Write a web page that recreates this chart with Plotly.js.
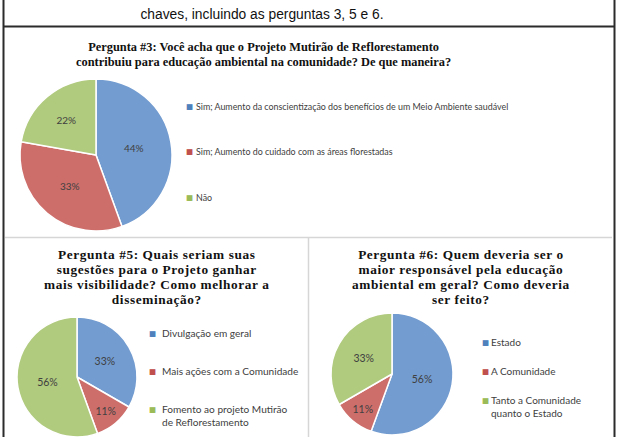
<!DOCTYPE html>
<html><head><meta charset="utf-8">
<script src="https://cdn.plot.ly/plotly-3.0.1.min.js"></script>
<style>html,body{margin:0;padding:0;background:#fff;overflow:hidden}</style>
</head><body><div id="chart" style="width:617px;height:437px"></div>
<script>
// ---- data ----
const caption = "chaves, incluindo as perguntas 3, 5 e 6.";
const q3Title = ["Pergunta #3: Você acha que o Projeto Mutirão de Reflorestamento",
                 "contribuiu para educação ambiental na comunidade? De que maneira?"];
const q3Labels = ["Sim; Aumento da conscientização dos benefícios de um Meio Ambiente saudável",
                  "Sim; Aumento do cuidado com as áreas florestadas",
                  "Não"];
const q3Values = [4, 3, 2];

const q5Title = ["Pergunta #5: Quais seriam suas", "sugestões para o Projeto ganhar",
                 "mais visibilidade? Como melhorar a", "disseminação?"];
const q5Labels = ["Divulgação em geral", "Mais ações com a Comunidade",
                  "Fomento ao projeto Mutirão de Reflorestamento"];
const q5Values = [3, 1, 5];

const q6Title = ["Pergunta #6: Quem deveria ser o", "maior responsável pela educação",
                 "ambiental em geral? Como deveria", "ser feito?"];
const q6Labels = ["Estado", "A Comunidade", "Tanto a Comunidade quanto o Estado"];
const q6Values = [5, 1, 3];

const sliceColors = ["#739CD0", "#CD6E6B", "#B0CA7E"];
const legendColors = ["#4F81BD", "#C0504D", "#9BBB59"];

// ---- layout helpers (pixel -> paper) ----
const W = 617, H = 437;
const X = px => px / W;
const Y = py => 1 - py / H;
const dom = (cx, cy, r) => ({x: [X(cx - r), X(cx + r)], y: [Y(cy + r), Y(cy - r)]});

function wrap(label, maxChars) {
  const words = label.split(' '); const lines = []; let cur = '';
  words.forEach(w => {
    if (cur && (cur + ' ' + w).length > maxChars) { lines.push(cur); cur = w; }
    else cur = cur ? cur + ' ' + w : w;
  });
  if (cur) lines.push(cur);
  return lines;
}

function pieTrace(labels, values, domain, fs) {
  return {
    type: 'pie', labels: labels, values: values, sort: false,
    direction: 'clockwise', rotation: 0,
    marker: {colors: sliceColors, line: {color: '#ffffff', width: 1.5}},
    texttemplate: '%{percent:.0%}', textposition: 'inside',
    insidetextorientation: 'horizontal',
    textfont: {family: 'Lato, Arial, sans-serif', size: fs, color: '#404040'},
    hoverinfo: 'label+percent', showlegend: false, domain: domain
  };
}

const annotations = [];
function titleAnn(lines, cx, cy, fs, lineGap, spacing) {
  const st = 'font-size:' + fs + 'px' + (spacing ? ';letter-spacing:' + spacing + 'px' : '');
  annotations.push({
    xref: 'paper', yref: 'paper', x: X(cx), y: Y(cy), xanchor: 'center', yanchor: 'middle',
    showarrow: false, align: 'center',
    text: lines.map(l => '<span style="' + st + '">' + l + '</span>').join('<br>'),
    font: {family: 'Liberation Serif, Times New Roman, serif', size: lineGap / 1.3, color: '#111111', weight: 'bold'}
  });
}
function legendAnn(labels, sqX, txX, ys, fs, maxChars) {
  labels.forEach((lab, i) => {
    const lines = wrap(lab, maxChars);
    const lh = fs * 1.3;
    annotations.push({
      xref: 'paper', yref: 'paper', x: X(sqX), y: Y(ys[i]), xanchor: 'center', yanchor: 'middle',
      showarrow: false, text: '■',
      font: {family: 'DejaVu Sans', size: 7.5, color: legendColors[i]}
    });
    annotations.push({
      xref: 'paper', yref: 'paper', x: X(txX), y: Y(ys[i] + (lines.length - 1) * lh / 2),
      xanchor: 'left', yanchor: 'middle', align: 'left', showarrow: false,
      text: lines.join('<br>'),
      font: {family: 'Lato, Arial, sans-serif', size: fs, color: '#404040'}
    });
  });
}

titleAnn(q3Title, 263, 54.5, 12.4, 15, 0);
titleAnn(q5Title, 157, 277, 13.3, 15, 0.6);
titleAnn(q6Title, 461, 277, 13.3, 15, 0.6);
legendAnn(q3Labels, 189, 194, [106, 151, 197], 8.9, 100);
legendAnn(q5Labels, 152, 160, [333, 371, 409], 10.1, 27);
legendAnn(q6Labels, 485, 489, [342, 371, 400], 10, 20);

const borderDark = {color: '#2b2b2b', width: 2};
const borderLight = {color: '#d6d6d6', width: 1.5};
const shapes = [
  {type: 'line', xref: 'paper', yref: 'paper', x0: X(3.5), x1: X(3.5), y0: 0, y1: 1, line: borderDark},
  {type: 'line', xref: 'paper', yref: 'paper', x0: X(614.5), x1: X(614.5), y0: 0, y1: 1, line: borderDark},
  {type: 'line', xref: 'paper', yref: 'paper', x0: X(3.5), x1: X(614.5), y0: Y(26.5), y1: Y(26.5), line: borderDark},
  {type: 'line', xref: 'paper', yref: 'paper', x0: X(5), x1: X(612), y0: Y(237.5), y1: Y(237.5), line: borderLight},
  {type: 'line', xref: 'paper', yref: 'paper', x0: X(308.5), x1: X(308.5), y0: Y(237.5), y1: 0, line: borderLight}
];

const data = [
  pieTrace(q3Labels, q3Values, dom(96, 155, 76), 10),
  pieTrace(q5Labels, q5Values, dom(77, 377, 60), 10.5),
  pieTrace(q6Labels, q6Values, dom(392, 374, 61), 10.5)
];

const layout = {
  width: W, height: H, margin: {l: 0, r: 0, t: 0, b: 0},
  paper_bgcolor: '#ffffff', plot_bgcolor: '#ffffff',
  showlegend: false,
  title: {text: caption, x: X(262), xanchor: 'center', y: Y(14.5), yanchor: 'middle',
          font: {family: 'Liberation Sans, Arial, sans-serif', size: 13.8, color: '#111111'}},
  annotations: annotations, shapes: shapes
};

Plotly.newPlot('chart', data, layout, {displayModeBar: false, staticPlot: true});
</script></body></html>
